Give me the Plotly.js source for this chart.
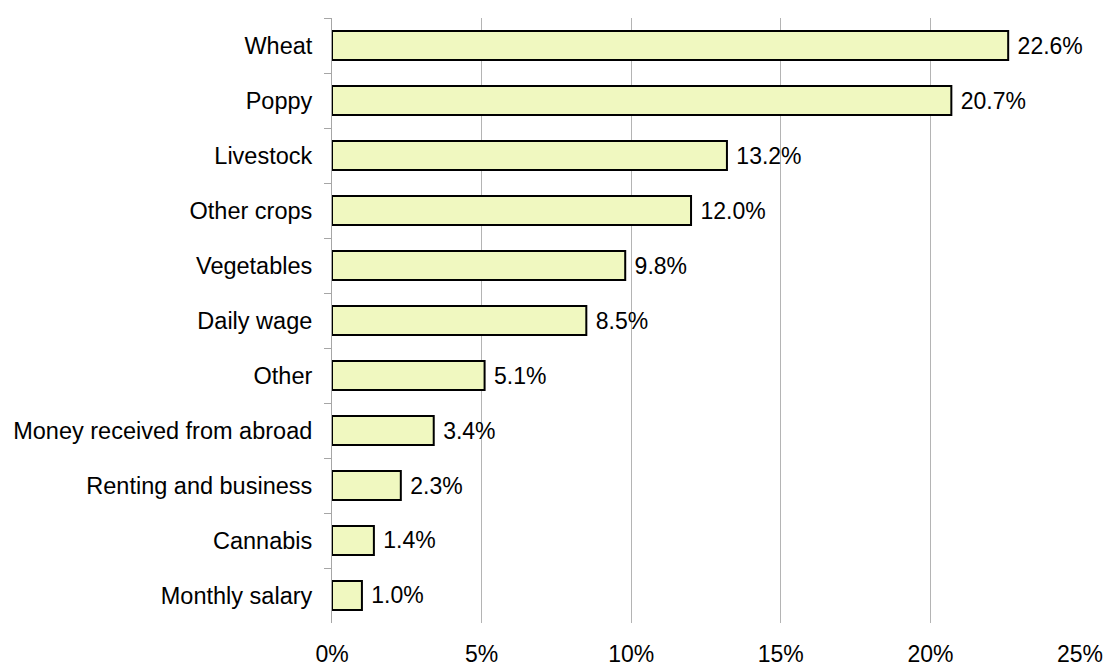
<!DOCTYPE html>
<html>
<head>
<meta charset="utf-8">
<script src="https://cdn.plot.ly/plotly-3.0.1.min.js"></script>
<style>html,body{margin:0;padding:0;background:#fff;}#chart{width:1106px;height:666px;}</style>
</head>
<body>
<div id="chart"></div>
<script>
const categories = ["Wheat","Poppy","Livestock","Other crops","Vegetables","Daily wage","Other","Money received from abroad","Renting and business","Cannabis","Monthly salary"];
const values = [22.6, 20.7, 13.2, 12.0, 9.8, 8.5, 5.1, 3.4, 2.3, 1.4, 1.0];
const xTickVals = [0, 5, 10, 15, 20, 25];
const xTickText = ["0%", "5%", "10%", "15%", "20%", "25%"];

const trace = {
  type: 'bar',
  orientation: 'h',
  y: categories,
  x: values,
  marker: {color: '#F0F8C0', line: {color: '#000000', width: 2}},
  text: values.map(v => ' ' + v.toFixed(1) + '%'),
  textposition: 'outside',
  cliponaxis: false,
  textfont: {family: 'Liberation Sans, Arial, sans-serif', size: 23, color: '#000'},
  hoverinfo: 'none'
};

const layout = {
  width: 1106, height: 666,
  margin: {l: 332, r: 26, t: 18, b: 43},
  paper_bgcolor: '#ffffff', plot_bgcolor: '#ffffff',
  font: {family: 'Liberation Sans, Arial, sans-serif', size: 23, color: '#000'},
  bargap: 0.47,
  showlegend: false,
  xaxis: {
    range: [0, 25],
    tickvals: xTickVals,
    ticktext: xTickText,
    showgrid: false,
    zeroline: false,
    showline: false,
    ticks: 'outside', ticklen: 10, tickcolor: 'rgba(0,0,0,0)',
    tickfont: {size: 23},
    minor: {tickvals: [5, 10, 15, 20], showgrid: true, gridcolor: '#b4b4b4', gridwidth: 1}
  },
  yaxis: {
    type: 'category',
    categoryorder: 'array', categoryarray: categories,
    autorange: 'reversed',
    showline: true, linecolor: '#a6a6a6', linewidth: 1,
    ticks: 'outside', ticklen: 7, tickcolor: '#a6a6a6', tickson: 'boundaries',
    showgrid: false, zeroline: false,
    tickfont: {size: 23.5},
    ticklabelstandoff: 14
  }
};

Plotly.newPlot('chart', [trace], layout, {displayModeBar: false, staticPlot: true});
</script>
</body>
</html>
